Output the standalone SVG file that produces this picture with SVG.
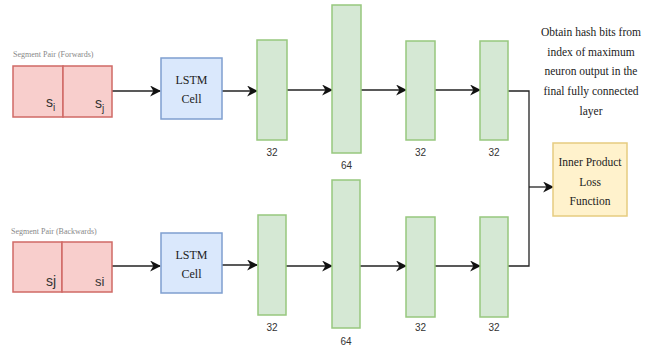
<svg xmlns="http://www.w3.org/2000/svg" width="665" height="347" viewBox="0 0 665 347">
<style>
.seg{fill:#f8cecc;stroke:#d06a66;stroke-width:1.5}
.lstm{fill:#dae8fc;stroke:#7f9fcf;stroke-width:1.5}
.fc{fill:#d5e8d4;stroke:#97c77e;stroke-width:1.5}
.loss{fill:#fff2cc;stroke:#e6cc80;stroke-width:1.5}
.conn{fill:none;stroke:#222;stroke-width:1.3}
</style>
<defs>
<marker id="arr" viewBox="0 0 10 10" refX="9" refY="5" markerWidth="11" markerHeight="11" markerUnits="userSpaceOnUse" orient="auto">
<path d="M0,0 L10,5 L0,10 L3,5 Z" fill="#111"/>
</marker>
</defs>
<rect width="665" height="347" fill="#fff"/>

<g id="connectors">
<line class="conn" x1="112" y1="91" x2="160" y2="91" marker-end="url(#arr)"/>
<line class="conn" x1="222" y1="91" x2="257" y2="91" marker-end="url(#arr)"/>
<line class="conn" x1="287" y1="90" x2="332" y2="90" marker-end="url(#arr)"/>
<line class="conn" x1="361" y1="90" x2="406" y2="90" marker-end="url(#arr)"/>
<line class="conn" x1="435" y1="90" x2="480" y2="90" marker-end="url(#arr)"/>
<line class="conn" x1="112" y1="266" x2="160" y2="266" marker-end="url(#arr)"/>
<line class="conn" x1="222" y1="265" x2="257" y2="265" marker-end="url(#arr)"/>
<line class="conn" x1="286" y1="266" x2="332" y2="266" marker-end="url(#arr)"/>
<line class="conn" x1="360" y1="266" x2="406" y2="266" marker-end="url(#arr)"/>
<line class="conn" x1="435" y1="266" x2="480" y2="266" marker-end="url(#arr)"/>
<polyline class="conn" points="508,91 529,91 529,266 508,266"/>
<line class="conn" x1="529" y1="187" x2="553" y2="187" marker-end="url(#arr)"/>
</g>

<g id="seg-forward">
<text x="13" y="57" font-family="Liberation Serif, DejaVu Serif, serif" font-size="8" fill="#888">Segment Pair (Forwards)</text>
<rect class="seg" x="13" y="66" width="50" height="51"/>
<rect class="seg" x="63" y="66" width="49" height="51"/>
<text x="46" y="107" font-family="Liberation Sans, sans-serif" font-size="14" fill="#333">s<tspan font-size="10" dy="4">i</tspan></text>
<text x="95" y="108" font-family="Liberation Sans, sans-serif" font-size="14" fill="#333">s<tspan font-size="10" dy="4">j</tspan></text>
</g>

<g id="seg-backward">
<text x="11" y="234" font-family="Liberation Serif, DejaVu Serif, serif" font-size="8" fill="#888">Segment Pair (Backwards)</text>
<rect class="seg" x="13" y="242" width="49" height="50"/>
<rect class="seg" x="62" y="242" width="50" height="50"/>
<text x="46" y="286" font-family="Liberation Sans, sans-serif" font-size="14" fill="#333">sj</text>
<text x="95" y="286" font-family="Liberation Sans, sans-serif" font-size="13" fill="#333">si</text>
</g>

<g id="lstm-top" font-family="Liberation Serif, DejaVu Serif, serif" font-size="12" fill="#222" text-anchor="middle">
<rect class="lstm" x="161" y="58" width="61" height="61"/>
<text x="191.5" y="84">LSTM</text>
<text x="191.5" y="103">Cell</text>
</g>
<g id="lstm-bottom" font-family="Liberation Serif, DejaVu Serif, serif" font-size="12" fill="#222" text-anchor="middle">
<rect class="lstm" x="161" y="233" width="61" height="60"/>
<text x="191.5" y="259">LSTM</text>
<text x="191.5" y="278">Cell</text>
</g>

<g font-family="Liberation Sans, sans-serif" font-size="10" fill="#333" text-anchor="middle">
<g id="fc1-top"><rect class="fc" x="257" y="40" width="30" height="100"/><text x="272" y="156">32</text></g>
<g id="fc2-top"><rect class="fc" x="332" y="5" width="29" height="148"/><text x="346.5" y="169">64</text></g>
<g id="fc3-top"><rect class="fc" x="406" y="41" width="29" height="99"/><text x="420.5" y="156">32</text></g>
<g id="fc4-top"><rect class="fc" x="480" y="41" width="28" height="99"/><text x="494" y="156">32</text></g>
<g id="fc1-bottom"><rect class="fc" x="258" y="215" width="28" height="100"/><text x="272" y="331">32</text></g>
<g id="fc2-bottom"><rect class="fc" x="332" y="180" width="28" height="148"/><text x="346" y="345">64</text></g>
<g id="fc3-bottom"><rect class="fc" x="406" y="217" width="29" height="100"/><text x="420.5" y="331">32</text></g>
<g id="fc4-bottom"><rect class="fc" x="480" y="217" width="28" height="100"/><text x="494" y="331">32</text></g>
</g>

<g id="loss" font-family="Liberation Serif, DejaVu Serif, serif" font-size="11.5" fill="#222" text-anchor="middle">
<rect class="loss" x="553" y="143" width="74" height="73"/>
<text x="590" y="166">Inner Product</text>
<text x="590" y="186">Loss</text>
<text x="590" y="205">Function</text>
</g>

<g id="note" font-family="Liberation Serif, DejaVu Serif, serif" font-size="11.5" fill="#222" text-anchor="middle">
<text x="591" y="36">Obtain hash bits from</text>
<text x="591" y="56">index of maximum</text>
<text x="591" y="75">neuron output in the</text>
<text x="591" y="95">final fully connected</text>
<text x="591" y="115">layer</text>
</g>
</svg>
